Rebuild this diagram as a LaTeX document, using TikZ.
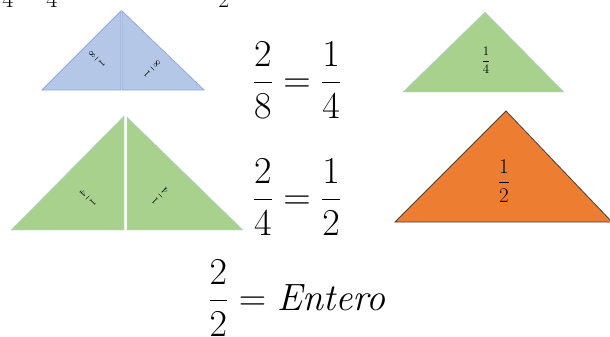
\RequirePackage{fix-cm}
\documentclass[tikz,border=0pt]{standalone}
\usepackage{amsmath}
\usepackage{xcolor}
\usetikzlibrary{positioning}

\definecolor{piezablue}{HTML}{B4C7E7}
\definecolor{bordeblue}{HTML}{8FAADC}
\definecolor{piezagreen}{HTML}{A9D18E}
\definecolor{piezaorange}{HTML}{ED7D31}
\definecolor{bordedark}{HTML}{404040}

\tikzset{
  octavo/.style={fill=piezablue, draw=bordeblue, line width=0.8pt},
  cuarto/.style={fill=piezagreen, draw=bordeblue!60, line width=0.4pt},
  medio/.style={fill=piezaorange, draw=bordedark, line width=0.8pt},
  rotulo/.style={inner sep=0pt, font=\fontsize{10}{11}\selectfont},
  igualdad/.style={inner sep=0pt, font=\fontsize{38}{40}\selectfont}
}

\begin{document}
\begin{tikzpicture}[x=1pt,y=-1pt]
\useasboundingbox (0,0) rectangle (610,337);
\clip (0,0) rectangle (610,337);
% restos de la linea de arriba
\node[igualdad, anchor=base, font=\fontsize{24}{26}\selectfont] (resto1) at (8,8) {$4$};
\node[igualdad, anchor=base, font=\fontsize{24}{26}\selectfont] (resto2) at (23,-4) {$+$};
\node[igualdad, anchor=base, font=\fontsize{24}{26}\selectfont] (resto3) at (52,8) {$4$};
\node[igualdad, anchor=base, font=\fontsize{24}{26}\selectfont] (resto4) at (224,8) {$2$};
%
% octavos
\draw[octavo] (42,90) -- (121,11) -- (121,90) -- cycle;
\draw[octavo] (122,90) -- (122,11) -- (204,90) -- cycle;
\node[rotulo, rotate=-135] (oct1) at (97,59) {$\dfrac{1}{8}$};
\node[rotulo, rotate=135] (oct2) at (152,69) {$\dfrac{1}{8}$};
%
% cuartos
\draw[cuarto] (11,230) -- (124,116) -- (124,230) -- cycle;
\draw[cuarto] (127,230) -- (127,117) -- (243,230) -- cycle;
\node[rotulo, rotate=-135] (cua1) at (88,198) {$\dfrac{1}{4}$};
\node[rotulo, rotate=135] (cua2) at (160,196) {$\dfrac{1}{4}$};
\draw[cuarto] (403,92) -- (485,12) -- (564,92) -- cycle;
\node[rotulo, font=\fontsize{13}{14}\selectfont] (cua3) at (486,60) {$\dfrac{1}{4}$};
%
% medio
\draw[medio] (395,222) -- (506,111) -- (612,222) -- cycle;
\node[rotulo, font=\fontsize{21}{23}\selectfont] (med) at (504,181) {$\dfrac{1}{2}$};
%
\node[igualdad] (eq1) at (297,80) {$\dfrac{2}{8}=\dfrac{1}{4}$};
\node[igualdad] (eq2) at (297,197) {$\dfrac{2}{4}=\dfrac{1}{2}$};
\node[igualdad] (eq3) at (298,298) {$\dfrac{2}{2}=\mathit{Entero}$};
\end{tikzpicture}
\end{document}
